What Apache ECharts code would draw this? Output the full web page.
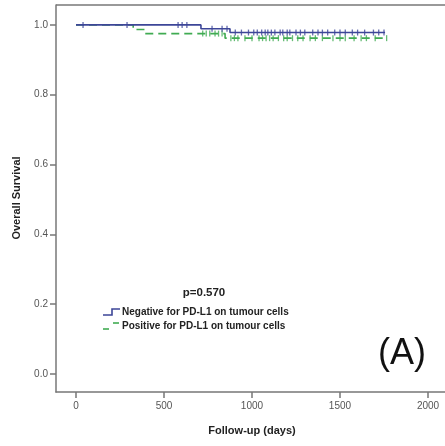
<!DOCTYPE html>
<html><head><meta charset="utf-8">
<script src="https://cdn.jsdelivr.net/npm/echarts@6/dist/echarts.min.js"></script>
<style>html,body{margin:0;padding:0;background:#fff}#c{width:445px;height:446px}</style>
</head><body><div id="c"></div>
<script>
// Data
const seriesNames = ['Negative for PD-L1 on tumour cells', 'Positive for PD-L1 on tumour cells'];
const negStepDays = [0, 710, 875];
const negStepSurv = [1.0, 0.989, 0.978];
const negLastDay = 1756;
const negCensorDays = [40, 290, 580, 603, 630, 773, 830, 858, 905, 940, 980, 1010, 1030, 1055, 1075, 1090, 1110, 1130, 1160, 1175, 1200, 1215, 1250, 1275, 1300, 1345, 1375, 1400, 1430, 1470, 1500, 1530, 1570, 1600, 1640, 1690, 1720, 1750];
const posStepDays = [0, 325, 390, 847];
const posStepSurv = [1.0, 0.987, 0.975, 0.962];
const posLastDay = 1767;
const posCensorDays = [720, 740, 760, 790, 810, 830, 880, 900, 920, 960, 1000, 1040, 1060, 1080, 1100, 1120, 1150, 1180, 1200, 1230, 1260, 1290, 1330, 1360, 1400, 1460, 1500, 1530, 1580, 1620, 1650, 1700, 1765];
const xTicks = [0, 500, 1000, 1500, 2000];
const yTicks = [0, 0.2, 0.4, 0.6, 0.8, 1.0];
const xTitle = 'Follow-up (days)';
const yTitle = 'Overall Survival';
const pValueText = 'p=0.570';
const panelText = '(A)';

const blue = '#3d4698', green = '#40ab52';
function stepData(days, surv, last) {
  const d = days.map((t, i) => [t, surv[i]]);
  d.push([last, surv[surv.length - 1]]);
  return d;
}
function survAt(days, surv, t) {
  let s = surv[0];
  for (let i = 0; i < days.length; i++) if (days[i] <= t) s = surv[i];
  return s;
}
const chart = echarts.init(document.getElementById('c'));
const FF = '"Liberation Sans", Arial, sans-serif';
const lbl = {color: '#555', fontSize: 10, fontFamily: 'Liberation Sans'};
const axLine = {show: true, onZero: false, lineStyle: {color: '#777', width: 1.5}};
const legTop = 305;
chart.setOption({
  animation: false,
  backgroundColor: '#fff',
  grid: {left: 56, right: 0, top: 5, bottom: 54, show: false},
  xAxis: {
    type: 'value', min: -113.6, max: 2096.6,
    splitLine: {show: false},
    axisLine: axLine,
    axisTick: {show: true, customValues: xTicks, length: 6, lineStyle: {color: '#777', width: 1.5}},
    axisLabel: Object.assign({customValues: xTicks, margin: 9, formatter: v => String(v)}, lbl)
  },
  yAxis: {
    type: 'value', min: -0.052, max: 1.057,
    splitLine: {show: false},
    axisLine: axLine,
    axisTick: {show: true, customValues: yTicks, length: 6, lineStyle: {color: '#777', width: 1.5}},
    axisLabel: Object.assign({customValues: yTicks, margin: 8, formatter: v => v.toFixed(1)}, lbl)
  },
  graphic: [
    {type: 'line', shape: {x1: 56, y1: 5, x2: 445, y2: 5}, style: {stroke: '#777', lineWidth: 1.5}},
    {type: 'text', x: 17, y: 198, rotation: Math.PI / 2,
     style: {text: yTitle, font: 'bold 11px ' + FF, fill: '#222', align: 'center', verticalAlign: 'middle'}},
    {type: 'text', x: 252, y: 431,
     style: {text: xTitle, font: 'bold 11px ' + FF, fill: '#222', align: 'center', verticalAlign: 'middle'}},
    {type: 'text', x: 204, y: 293, style: {text: pValueText, font: 'bold 11.5px ' + FF, fill: '#222', align: 'center', verticalAlign: 'middle'}},
    {type: 'text', x: 402, y: 354, style: {text: panelText, font: '36px ' + FF, fill: '#111', align: 'center', verticalAlign: 'middle'}},
    {type: 'text', x: 122, y: legTop + 7, style: {text: seriesNames[0], font: 'bold 10px ' + FF, fill: '#222', verticalAlign: 'middle'}},
    {type: 'text', x: 122, y: legTop + 21, style: {text: seriesNames[1], font: 'bold 10px ' + FF, fill: '#222', verticalAlign: 'middle'}},
    {type: 'polyline', shape: {points: [[103, legTop + 10], [112, legTop + 10], [112, legTop + 4], [120, legTop + 4]]},
     style: {stroke: blue, lineWidth: 1.6, fill: null}},
    {type: 'polyline', shape: {points: [[103, legTop + 24], [109, legTop + 24]]}, style: {stroke: green, lineWidth: 1.6, fill: null}},
    {type: 'polyline', shape: {points: [[113, legTop + 18], [119, legTop + 18]]}, style: {stroke: green, lineWidth: 1.6, fill: null}}
  ],
  series: [
    {name: seriesNames[0], type: 'line', step: 'end', showSymbol: false, symbol: 'none',
     data: stepData(negStepDays, negStepSurv, negLastDay), color: blue,
     lineStyle: {color: blue, width: 1.6}, z: 3},
    {name: seriesNames[1], type: 'line', step: 'end', showSymbol: false, symbol: 'none',
     data: stepData(posStepDays, posStepSurv, posLastDay), color: green,
     lineStyle: {color: green, width: 1.6, type: [8, 5]}, z: 2},
    {name: 'negCensor', type: 'scatter', symbol: 'rect', symbolSize: [1.3, 6], color: blue,
     data: negCensorDays.map(t => [t, survAt(negStepDays, negStepSurv, t)]), z: 4},
    {name: 'posCensor', type: 'scatter', symbol: 'rect', symbolSize: [1.3, 6], color: green,
     data: posCensorDays.map(t => [t, survAt(posStepDays, posStepSurv, t)]), z: 3}
  ]
});
</script></body></html>
